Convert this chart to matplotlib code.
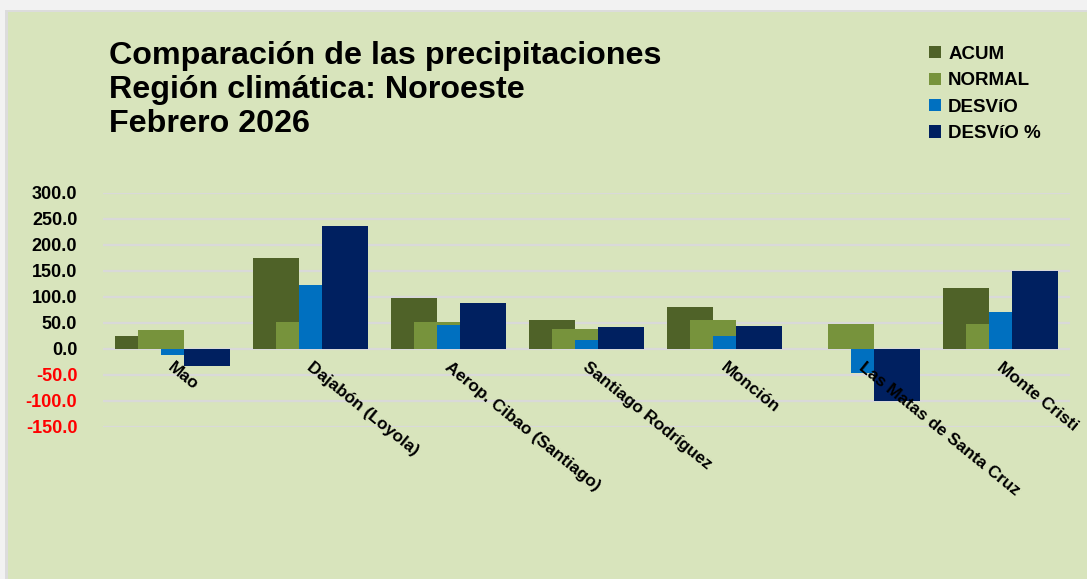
import matplotlib
matplotlib.use("Agg")
import matplotlib.pyplot as plt
from matplotlib.patches import Rectangle
import numpy as np

plt.rcParams['font.family'] = ['Liberation Sans', 'DejaVu Sans']
plt.rcParams['font.weight'] = 'bold'

categories = ["Mao", "Dajabón (Loyola)", "Aerop. Cibao (Santiago)", "Santiago Rodríguez",
              "Monción", "Las Matas de Santa Cruz", "Monte Cristi"]
acum = [24.0, 173.6, 97.4, 56.0, 80.0, 0.0, 117.0]
normal = [35.4, 51.5, 51.5, 38.7, 54.8, 47.0, 47.0]
desvio = [-11.4, 122.1, 45.9, 17.3, 25.2, -47.0, 70.0]
desvio_pct = [-33.0, 236.0, 88.0, 41.0, 44.0, -100.0, 149.0]
series_names = ["ACUM", "NORMAL", "DESVíO", "DESVíO %"]
colors = ["#4f6228", "#77933c", "#0070c0", "#002060"]
yticks = [-150, -100, -50, 0, 50, 100, 150, 200, 250, 300]

W, H = 1087, 579
fig = plt.figure(figsize=(W / 100, H / 100), dpi=100, facecolor="#f2f2f2")
# panel background
fig.patches.append(Rectangle((0, 0), 1, 1 - 10 / H, transform=fig.transFigure,
                             facecolor="#dcdcdc", edgecolor="none", zorder=-3))
fig.patches.append(Rectangle((8 / W, 0), 1, 1 - 12 / H, transform=fig.transFigure,
                             facecolor="#d8e4bc", edgecolor="none", zorder=-2))
fig.patches.append(Rectangle((0, 0), 5 / W, 1 - 10 / H, transform=fig.transFigure,
                             facecolor="#f2f2f2", edgecolor="none", zorder=-2))

ax = fig.add_axes([103 / W, 1 - 426.7 / H, (1070 - 103) / W, (426.7 - 192.7) / H])
ax.set_facecolor("none")
ax.set_zorder(2)

x = np.arange(len(categories))
bw = 1 / 3
step = 1 / 6
offsets = [-1.5 * step, -0.5 * step, 0.5 * step, 1.5 * step]
handles = []
for vals, off, col, name in zip([acum, normal, desvio, desvio_pct], offsets, colors, series_names):
    b = ax.bar(x + off, vals, width=bw, color=col, edgecolor="none", label=name, zorder=3)
    handles.append(b)

ax.set_xlim(-0.5, len(categories) - 0.5)
ax.set_ylim(-150, 300)
ax.set_yticks(yticks)
ax.set_yticklabels([f"{v:.1f}" for v in yticks], fontsize=13, fontweight="bold")
for lab, v in zip(ax.get_yticklabels(), yticks):
    lab.set_color("#ff0000" if v < 0 else "#000000")
ax.tick_params(axis="y", length=0, pad=18.5)
ax.set_xticks([])
for s in ax.spines.values():
    s.set_visible(False)
ax.grid(axis="y", color="#d9d9d9", linewidth=1.6, zorder=1)
ax.set_axisbelow(True)

for i, c in enumerate(categories):
    ax.annotate(c, (i, 0), xytext=(2, -8), textcoords="offset points",
                rotation=-39, rotation_mode="anchor", ha="left", va="top",
                fontsize=12.3, fontweight="bold", color="#000000", zorder=5,
                annotation_clip=False)

fig.text(109 / W, 1 - 41 / H,
         "Comparación de las precipitaciones\nRegión climática: Noroeste\nFebrero 2026",
         fontsize=23.2, fontweight="bold", ha="left", va="top", linespacing=1.17)

leg = fig.legend(handles=handles, labels=series_names, loc="upper left",
                 bbox_to_anchor=(929 / W, 1 - 46 / H), frameon=False,
                 prop={"weight": "bold", "size": 13.5},
                 handlelength=0.62, handleheight=0.62, handletextpad=0.4,
                 labelspacing=0.5, borderpad=0, borderaxespad=0)

fig.savefig("out.png", dpi=100, facecolor=fig.get_facecolor())
